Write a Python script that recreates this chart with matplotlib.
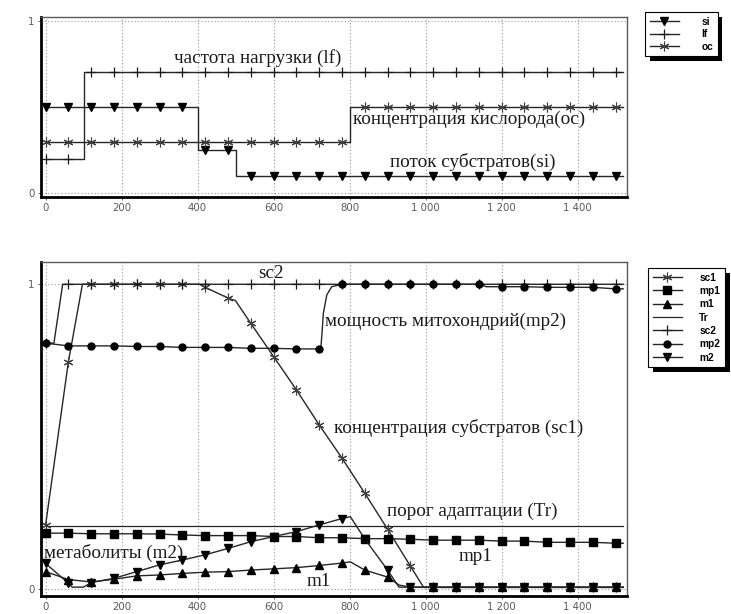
import numpy as np
import matplotlib
matplotlib.use("Agg")
import matplotlib.pyplot as plt
from matplotlib import patheffects
from matplotlib.ticker import FuncFormatter

# time axis: markers every 60, lines run to 1520
mark_t = np.arange(0, 1501, 60)
t_end = 1520

# ---- top panel (step inputs): breakpoints and levels
si_bp_t = [0, 400, 500]
si_bp_v = [0.5, 0.25, 0.1]
lf_bp_t = [0, 100]
lf_bp_v = [0.2, 0.7]
oc_bp_t = [0, 800]
oc_bp_v = [0.3, 0.5]

# ---- bottom panel: values at the marker times + extra knee points (t, v)
sc1_vals = [0.21, 0.745, 1.0, 1.0, 1.0, 1.0, 1.0, 0.99, 0.955, 0.872, 0.763, 0.654,
            0.539, 0.43, 0.315, 0.197, 0.076, 0.006, 0.006, 0.006, 0.006, 0.006,
            0.006, 0.006, 0.006, 0.006]
sc1_extra = [(97, 1.0), (405, 1.0), (500, 0.946), (995, 0.006), (1520, 0.006)]

mp1_vals = [0.184, 0.184, 0.182, 0.182, 0.182, 0.181, 0.178, 0.176, 0.176, 0.176,
            0.173, 0.173, 0.169, 0.169, 0.166, 0.166, 0.164, 0.161, 0.161, 0.161,
            0.158, 0.158, 0.154, 0.154, 0.154, 0.151]
mp1_extra = [(1520, 0.151)]

m1_vals = [0.058, 0.032, 0.024, 0.033, 0.044, 0.047, 0.052, 0.056, 0.058, 0.063,
           0.067, 0.071, 0.078, 0.086, 0.063, 0.040, 0.007, 0.007, 0.007, 0.007,
           0.007, 0.007, 0.007, 0.007, 0.007, 0.007]
m1_extra = [(802, 0.09), (930, 0.014), (1520, 0.007)]

tr_t = [0, 1520]
tr_v = [0.208, 0.208]

sc2_vals = [0.807] + [1.0] * 25
sc2_extra = [(22, 0.807), (45, 1.0), (1520, 1.0)]

mp2_vals = [0.807, 0.798, 0.798, 0.798, 0.796, 0.796, 0.793, 0.793, 0.793, 0.79,
            0.79, 0.788, 0.788, 1.0, 1.0, 1.0, 1.0, 1.0, 1.0, 1.0,
            0.992, 0.992, 0.99, 0.99, 0.99, 0.985]
mp2_extra = [(725, 0.80), (728, 0.85), (731, 0.905), (740, 0.965), (753, 0.992),
             (1160, 0.992), (1520, 0.985)]

m2_vals = [0.085, 0.02, 0.022, 0.036, 0.058, 0.08, 0.096, 0.113, 0.134, 0.156,
           0.173, 0.189, 0.211, 0.232, 0.165, 0.063, 0.007, 0.007, 0.007, 0.007,
           0.007, 0.007, 0.007, 0.007, 0.007, 0.007]
m2_extra = [(70, 0.007), (100, 0.007), (802, 0.238), (930, 0.007), (1520, 0.007)]

x_ticks = [0, 200, 400, 600, 800, 1000, 1200, 1400]


def step_series(bp_t, bp_v):
    t = np.union1d(np.union1d(bp_t, mark_t), [t_end])
    idx = np.searchsorted(bp_t, t, side='right') - 1
    return t, np.asarray(bp_v)[idx]


def series(vals, extra):
    t = np.concatenate([mark_t, [e[0] for e in extra]])
    v = np.concatenate([vals, [e[1] for e in extra]])
    order = np.argsort(t, kind='stable')
    return t[order], v[order]


def marks(t):
    return np.nonzero(np.isin(t, mark_t))[0].tolist()


AST = (6, 2, 0)
LC = '0.15'
serif = 'Liberation Serif'
txt = dict(fontfamily=serif, fontsize=13.8, color='0.1', ha='left', va='center')

fig = plt.figure(figsize=(7.31, 6.14), dpi=100)
ax1 = fig.add_axes([41 / 731, 417 / 614, 586 / 731, 180 / 614])
ax2 = fig.add_axes([41 / 731, 18 / 614, 586 / 731, 334.3 / 614])


def style(ax, ylim):
    ax.set_xlim(-12, 1530)
    ax.set_ylim(*ylim)
    ax.set_xticks(x_ticks)
    ax.set_yticks([0, 1])
    ax.xaxis.set_major_formatter(FuncFormatter(lambda v, p: f"{int(v):,}".replace(",", " ")))
    ax.yaxis.set_major_formatter(FuncFormatter(lambda v, p: f"{int(v)}"))
    ax.grid(True, color='0.6', linestyle=(0, (1, 2)), linewidth=0.8)
    ax.tick_params(labelsize=7.3, labelcolor='0.35', length=2.5, width=0.7,
                   color='0.4', pad=2)
    for s in ('left', 'bottom'):
        ax.spines[s].set_linewidth(2.0)
        ax.spines[s].set_color('black')
    for s in ('top', 'right'):
        ax.spines[s].set_linewidth(1.0)
        ax.spines[s].set_color('0.35')


def shadow_legend(ax, handles, anchor, spacing, textpad):
    leg = ax.legend(handles=handles, loc='upper left', bbox_to_anchor=anchor,
                    bbox_transform=fig.transFigure, frameon=True, fancybox=False,
                    edgecolor='black', framealpha=1, borderaxespad=0,
                    prop={'family': 'Liberation Sans', 'weight': 'bold', 'size': 7.3},
                    handlelength=2.9, labelspacing=spacing, handletextpad=textpad,
                    borderpad=0.45)
    leg.get_frame().set_linewidth(0.8)
    leg.get_frame().set_path_effects([
        patheffects.SimplePatchShadow(offset=(3.5, -3.5), shadow_rgbFace='black', alpha=1),
        patheffects.Normal()])
    return leg


# ---------- top panel
t, v = step_series(si_bp_t, si_bp_v)
h_si, = ax1.plot(t, v, drawstyle='steps-post', color=LC, lw=1.0, marker='v',
                 ms=6, mfc='black', mec='black', markevery=marks(t), label='si')
t, v = step_series(lf_bp_t, lf_bp_v)
h_lf, = ax1.plot(t, v, drawstyle='steps-post', color=LC, lw=1.0, marker='+',
                 ms=7, mew=0.9, mec='0.1', markevery=marks(t), label='lf')
t, v = step_series(oc_bp_t, oc_bp_v)
h_oc, = ax1.plot(t, v, drawstyle='steps-post', color=LC, lw=1.0, marker=AST,
                 ms=7, mew=0.8, mec='0.25', markevery=marks(t), label='oc')
style(ax1, (-0.021, 1.021))

ax1.text(338, 0.782, 'частота нагрузки (lf)', **txt)
ax1.text(808, 0.428, 'концентрация кислорода(oc)', **txt)
ax1.text(906, 0.18, 'поток субстратов(si)', **txt)

shadow_legend(ax1, [h_si, h_lf, h_oc], (645 / 731, 1 - 12 / 614), 0.25, 2.2)

# ---------- bottom panel
t, v = series(sc1_vals, sc1_extra)
h_sc1, = ax2.plot(t, v, color=LC, lw=1.0, marker=AST, ms=7, mew=0.8, mec='0.25',
                  markevery=marks(t), label='sc1')
t, v = series(mp1_vals, mp1_extra)
h_mp1, = ax2.plot(t, v, color=LC, lw=1.0, marker='s', ms=5.5, mfc='black', mec='black',
                  markevery=marks(t), label='mp1')
t, v = series(m1_vals, m1_extra)
h_m1, = ax2.plot(t, v, color=LC, lw=1.0, marker='^', ms=5.5, mfc='black', mec='black',
                 markevery=marks(t), label='m1')
h_tr, = ax2.plot(tr_t, tr_v, color=LC, lw=0.9, label='Tr')
t, v = series(sc2_vals, sc2_extra)
h_sc2, = ax2.plot(t, v, color=LC, lw=1.0, marker='+', ms=7, mew=0.9, mec='0.1',
                  markevery=marks(t), label='sc2')
t, v = series(mp2_vals, mp2_extra)
h_mp2, = ax2.plot(t, v, color=LC, lw=1.0, marker='o', ms=5, mfc='black', mec='black',
                  markevery=marks(t), label='mp2')
t, v = series(m2_vals, m2_extra)
h_m2, = ax2.plot(t, v, color=LC, lw=1.0, marker='v', ms=5.5, mfc='black', mec='black',
                 markevery=marks(t), label='m2')
style(ax2, (-0.022, 1.074))

ax2.text(560, 1.036, 'sc2', **txt)
ax2.text(736, 0.877, 'мощность митохондрий(mp2)', **txt)
ax2.text(758, 0.53, 'концентрация субстратов (sc1)', **txt)
ax2.text(898, 0.254, 'порог адаптации (Tr)', **txt)
ax2.text(1086, 0.109, 'mp1', **txt)
ax2.text(-4, 0.118, 'метаболиты (m2)', **txt)
ax2.text(688, 0.025, 'm1', **txt)

shadow_legend(ax2, [h_sc1, h_mp1, h_m1, h_tr, h_sc2, h_mp2, h_m2],
              (648 / 731, 1 - 268 / 614), 0.33, 1.7)

fig.savefig('out.png', dpi=100)
